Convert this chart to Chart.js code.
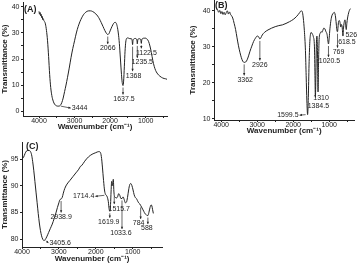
<!DOCTYPE html>
<html>
<head>
<meta charset="utf-8">
<script src="https://cdn.jsdelivr.net/npm/chart.js@4.4.1/dist/chart.umd.min.js"></script>
<style>
  body { margin: 0; background: #fff; }
  canvas { position: absolute; }
  #chartA { left: 0; top: 0; width: 180px; height: 135px; }
  #chartB { left: 180px; top: 0; width: 181px; height: 135px; }
  #chartC { left: 0; top: 135px; width: 180px; height: 137px; }
</style>
</head>
<body>
<canvas id="chartA" width="180" height="135"></canvas>
<canvas id="chartB" width="181" height="135"></canvas>
<canvas id="chartC" width="180" height="137"></canvas>
<script>
// ---- panel A ----
var aWave = [4000, 3985, 3970, 3955, 3940, 3925, 3910, 3895, 3880, 3860, 3840, 3820, 3790, 3760, 3730, 3700, 3670, 3640, 3600, 3560, 3520, 3480, 3444, 3400, 3360, 3320, 3280, 3240, 3200, 3150, 3100, 3050, 3000, 2950, 2900, 2850, 2800, 2750, 2700, 2650, 2600, 2550, 2500, 2450, 2400, 2350, 2300, 2250, 2200, 2150, 2100, 2066, 2030, 2000, 1950, 1900, 1860, 1830, 1800, 1770, 1740, 1710, 1680, 1660, 1637, 1620, 1600, 1580, 1560, 1540, 1510, 1480, 1440, 1400, 1380, 1368, 1355, 1330, 1300, 1260, 1245, 1235, 1222, 1190, 1150, 1135, 1122, 1110, 1080, 1040, 1000, 960, 920, 880, 840, 800, 760, 720, 680, 640, 600, 560, 520, 480, 440, 400];
var aTrans = [38.3, 37.2, 37.9, 36.6, 37.2, 35.9, 36.4, 35.1, 35.5, 34.6, 34.3, 33.5, 31.0, 27.0, 21.0, 14.0, 9.0, 6.0, 3.8, 2.6, 2.1, 1.9, 1.9, 2.2, 3.2, 5.0, 7.5, 10.0, 12.8, 16.5, 20.5, 24.0, 27.0, 30.0, 32.4, 34.3, 35.8, 37.0, 37.8, 38.3, 38.5, 38.5, 38.3, 37.9, 37.3, 36.5, 35.4, 34.0, 32.5, 31.0, 29.8, 29.4, 29.8, 30.8, 32.4, 33.7, 34.1, 33.8, 32.5, 30.0, 26.0, 20.0, 14.0, 11.0, 9.8, 11.5, 17.0, 23.0, 26.5, 27.8, 28.1, 28.0, 27.8, 27.8, 27.0, 25.5, 27.2, 27.7, 27.9, 27.7, 27.0, 25.8, 27.3, 27.8, 27.7, 27.2, 26.0, 27.3, 27.9, 28.0, 28.0, 27.6, 26.8, 25.0, 22.5, 19.5, 17.2, 15.6, 14.6, 13.9, 13.4, 13.0, 12.7, 12.5, 12.4, 12.2];
var aPeakText = ["3444", "2066", "1637.5", "1368", "1235.5", "1122.5"];
var aPeakWave = [3444, 2066, 1637, 1368, 1235, 1122];

// ---- panel B ----
var bWave = [4100, 4070, 4040, 4010, 3980, 3950, 3920, 3890, 3860, 3830, 3800, 3770, 3740, 3710, 3680, 3640, 3600, 3560, 3520, 3480, 3440, 3400, 3362, 3320, 3280, 3240, 3200, 3150, 3100, 3050, 3000, 2960, 2926, 2900, 2860, 2800, 2700, 2600, 2500, 2400, 2300, 2200, 2100, 2000, 1900, 1820, 1780, 1750, 1720, 1690, 1660, 1640, 1620, 1600, 1580, 1560, 1540, 1520, 1500, 1470, 1440, 1410, 1395, 1384, 1370, 1355, 1340, 1325, 1310, 1295, 1280, 1250, 1220, 1200, 1180, 1150, 1120, 1090, 1060, 1040, 1020, 1000, 980, 950, 920, 890, 860, 840, 820, 800, 785, 769, 755, 740, 720, 700, 680, 660, 640, 618, 600, 580, 560, 540, 526, 510, 490, 470, 450, 430, 410];
var bTrans = [40.3, 39.6, 40.1, 39.2, 39.8, 39.0, 39.6, 38.9, 39.5, 40.0, 39.1, 39.7, 39.0, 38.6, 38.0, 36.5, 34.8, 32.5, 30.3, 28.5, 27.0, 26.0, 25.7, 25.8, 26.4, 27.5, 28.8, 30.2, 31.5, 32.4, 33.0, 32.8, 32.2, 32.5, 33.3, 34.0, 34.7, 35.2, 35.6, 35.9, 36.1, 36.5, 37.0, 37.6, 38.5, 39.5, 40.0, 39.8, 38.0, 34.5, 29.0, 22.0, 15.0, 11.2, 16.0, 25.0, 31.0, 33.5, 34.0, 33.6, 32.8, 30.0, 22.0, 16.0, 22.0, 31.0, 33.0, 28.0, 17.5, 26.0, 32.0, 33.8, 34.2, 34.0, 34.5, 35.2, 35.0, 34.2, 33.5, 32.0, 30.8, 32.5, 35.0, 37.5, 38.8, 39.3, 39.6, 39.2, 38.0, 36.0, 34.5, 34.2, 35.5, 37.0, 37.3, 36.8, 35.5, 36.2, 35.5, 33.0, 35.5, 37.0, 37.5, 35.8, 34.8, 36.5, 38.0, 39.0, 39.8, 40.3, 40.6];
var bPeakText = ["3362", "2926", "1599.5", "1384.5", "1310", "1020.5", "769", "618.5", "526"];
var bPeakWave = [3362, 2926, 1600, 1384, 1310, 1020, 769, 618, 526];

// ---- panel C ----
var cWave = [4000, 3960, 3920, 3880, 3840, 3800, 3770, 3740, 3710, 3680, 3650, 3620, 3590, 3560, 3530, 3500, 3470, 3440, 3405, 3370, 3330, 3280, 3230, 3180, 3130, 3080, 3040, 3000, 2970, 2940, 2910, 2880, 2840, 2780, 2700, 2620, 2540, 2460, 2420, 2380, 2300, 2200, 2100, 2000, 1920, 1880, 1850, 1820, 1790, 1760, 1730, 1714, 1690, 1660, 1640, 1620, 1600, 1585, 1570, 1555, 1540, 1525, 1510, 1495, 1470, 1440, 1410, 1380, 1350, 1320, 1290, 1260, 1230, 1200, 1170, 1140, 1110, 1080, 1050, 1020, 990, 960, 930, 900, 870, 840, 810, 784, 760, 730, 700, 670, 640, 610, 588, 560, 530, 500, 480, 460, 440];
var cTrans = [95.0, 95.3, 96.0, 96.5, 96.6, 96.6, 96.4, 95.8, 94.5, 92.8, 90.8, 88.8, 86.8, 84.8, 83.0, 81.6, 80.6, 80.0, 79.7, 79.9, 80.4, 81.2, 82.0, 82.8, 83.8, 84.9, 85.9, 86.8, 87.4, 87.5, 87.8, 88.6, 89.5, 90.3, 91.0, 91.7, 92.4, 93.1, 93.6, 93.8, 94.6, 95.4, 95.9, 96.2, 96.4, 96.3, 95.5, 93.5, 91.0, 89.0, 88.3, 88.2, 87.9, 87.0, 85.7, 85.2, 86.5, 89.0, 90.8, 90.0, 90.6, 91.2, 89.0, 88.0, 87.8, 87.7, 87.9, 88.5, 88.2, 87.6, 87.6, 87.9, 87.4, 86.8, 86.9, 87.8, 89.2, 90.2, 90.4, 90.0, 89.2, 88.3, 87.8, 87.6, 87.2, 86.8, 86.6, 86.3, 86.0, 85.6, 85.2, 84.8, 84.6, 84.4, 84.4, 85.0, 85.9, 86.4, 86.2, 85.5, 84.8];
var cPeakText = ["3405.6", "2938.9", "1714.4", "1619.9", "1515.7", "1033.6", "784", "588"];
var cPeakWave = [3405, 2940, 1714, 1620, 1500, 1290, 784, 588];

var FONT = "'Liberation Sans', Arial, sans-serif";
var INK = "#222";

// where each peak label sits relative to the point on the curve
var aNoteLayout = [
    {side: "right", dx: 13, dy: 2},
    {side: "down", dx: 0, dy: 14},
    {side: "down", dx: 1, dy: 13.5},
    {side: "down", dx: 1, dy: 31},
    {side: "down", dx: 5, dy: 18.5},
    {side: "down", dx: 5, dy: 9.5}
];
var bNoteLayout = [
    {side: "down", dx: 1, dy: 17.5},
    {side: "down", dx: 0, dy: 26},
    {side: "left", dx: -9, dy: 0.5},
    {side: "down", dx: 3, dy: 8.5},
    {side: "down", dx: 3, dy: 6},
    {side: "down", dx: 1, dy: 17.5},
    {side: "down", dx: 1, dy: 20.5},
    {side: "down", dx: 4, dy: 6},
    {side: "down", dx: 5, dy: 5.5}
];
var cNoteLayout = [
    {side: "right", dx: 5.5, dy: 2.5},
    {side: "down", dx: 0, dy: 18},
    {side: "left", dx: -12, dy: 1},
    {side: "down", dx: -1, dy: 11},
    {side: "down", dx: 5, dy: 14},
    {side: "down", dx: -1, dy: 35},
    {side: "down", dx: -2, dy: 18},
    {side: "down", dx: -1, dy: 13}
];

function curveAt(xs, ys, wn) {
    for (var i = 0; i < xs.length - 1; i++) {
        if ((xs[i] - wn) * (xs[i + 1] - wn) <= 0) {
            var t = (wn - xs[i]) / (xs[i + 1] - xs[i]);
            return ys[i] + t * (ys[i + 1] - ys[i]);
        }
    }
    return ys[ys.length - 1];
}

function arrowHead(ctx, x0, y0, x1, y1) {
    var a = Math.atan2(y1 - y0, x1 - x0);
    var len = 2.6;
    ctx.beginPath();
    ctx.moveTo(x1, y1);
    ctx.lineTo(x1 - len * Math.cos(a - 0.45), y1 - len * Math.sin(a - 0.45));
    ctx.lineTo(x1 - len * Math.cos(a + 0.45), y1 - len * Math.sin(a + 0.45));
    ctx.closePath();
    ctx.fill();
}

var notesPlugin = {
    id: "peakNotes",
    afterDraw: function (chart) {
        var o = chart.options.plugins.peakNotes;
        var ctx = chart.ctx;
        var xs = chart.scales.x, ys = chart.scales.y;
        ctx.save();
        ctx.fillStyle = INK;
        ctx.strokeStyle = INK;
        ctx.lineWidth = 0.7;
        ctx.font = "7px " + FONT;
        ctx.textBaseline = "middle";
        o.waves.forEach(function (wn, i) {
            var lay = o.layout[i];
            var px = xs.getPixelForValue(wn);
            var py = ys.getPixelForValue(curveAt(o.xs, o.ys, wn));
            var lx = px + lay.dx, ly = py + lay.dy;
            if (lay.side === "down") {
                ctx.textAlign = "center";
                ctx.fillText(o.texts[i], lx, ly);
                var top = ly - 4.5;
                if (top - (py + 2) > 2) {
                    ctx.beginPath();
                    ctx.moveTo(px, py + 2);
                    ctx.lineTo(px, top);
                    ctx.stroke();
                    arrowHead(ctx, px, py + 2, px, top);
                }
            } else if (lay.side === "right") {
                ctx.textAlign = "left";
                ctx.fillText(o.texts[i], lx, ly);
                ctx.beginPath();
                ctx.moveTo(px + 2, py);
                ctx.lineTo(lx - 1, ly);
                ctx.stroke();
                arrowHead(ctx, px + 2, py, lx - 1, ly);
            } else {
                ctx.textAlign = "right";
                ctx.fillText(o.texts[i], lx, ly);
                ctx.beginPath();
                ctx.moveTo(px - 2, py);
                ctx.lineTo(lx + 1, ly);
                ctx.stroke();
                arrowHead(ctx, px - 2, py, lx + 1, ly);
            }
        });
        ctx.font = "bold 9px " + FONT;
        ctx.textAlign = "left";
        ctx.fillText(o.tag, o.tagX, o.tagY);
        ctx.restore();
    }
};

// ticks at every multiple of step inside the range, nothing else
function stepTicks(step, min, max) {
    return function (scale) {
        var t = [];
        for (var v = Math.ceil(min / step - 1e-9) * step; v <= max + 1e-9; v += step) {
            t.push({value: Math.round(v * 1000) / 1000});
        }
        scale.ticks = t;
    };
}

function drawPanel(canvasId, xs, ys, p) {
    var pts = xs.map(function (x, i) { return {x: x, y: ys[i]}; });
    new Chart(document.getElementById(canvasId), {
        type: "line",
        data: {
            datasets: [{
                data: pts,
                borderColor: INK,
                borderWidth: 1,
                pointRadius: 0,
                cubicInterpolationMode: "monotone",
                fill: false
            }]
        },
        options: {
            responsive: false,
            animation: false,
            events: [],
            layout: {padding: {top: p.top, right: p.right, left: p.left, bottom: p.bottom}},
            plugins: {
                legend: {display: false},
                tooltip: {enabled: false},
                peakNotes: {
                    xs: xs, ys: ys, waves: p.waves, texts: p.texts, layout: p.layout,
                    tag: p.tag, tagX: p.tagX, tagY: p.tagY
                }
            },
            scales: {
                x: {
                    type: "linear",
                    reverse: true,
                    min: p.xMin,
                    max: p.xMax,
                    afterBuildTicks: stepTicks(500, p.xMin, p.xMax),
                    afterFit: function (s) {
                        s.height = p.xAxisH;
                        s.paddingLeft = 0;
                        s.paddingRight = 0;
                    },
                    border: {display: true, color: INK, width: 1},
                    grid: {drawOnChartArea: false, drawTicks: true, tickLength: 2, color: INK},
                    ticks: {
                        autoSkip: false,
                        maxRotation: 0,
                        padding: 0,
                        color: INK,
                        font: {family: FONT, size: 7, lineHeight: 1},
                        callback: function (v) { return v % 1000 === 0 ? String(v) : ""; }
                    },
                    title: {
                        display: true,
                        text: "Wavenumber (cm\u207B\u00B9)",
                        color: INK,
                        padding: {top: 0, bottom: 0},
                        font: {family: FONT, size: 8, weight: "bold", lineHeight: 1}
                    }
                },
                y: {
                    min: p.yMin,
                    max: p.yMax,
                    afterBuildTicks: stepTicks(p.yStep, p.yMin, p.yMax),
                    afterFit: function (s) {
                        s.width = p.yAxisW;
                        s.paddingTop = 0;
                        s.paddingBottom = 0;
                    },
                    border: {display: true, color: INK, width: 1},
                    grid: {drawOnChartArea: false, drawTicks: true, tickLength: 2, color: INK},
                    ticks: {
                        autoSkip: false,
                        padding: 1.5,
                        color: INK,
                        font: {family: FONT, size: 7},
                        callback: function (v) { return v % p.yLabelStep === 0 ? String(v) : ""; }
                    },
                    title: {
                        display: true,
                        text: "Transmittance (%)",
                        color: INK,
                        padding: {top: 0, bottom: 0},
                        font: {family: FONT, size: 8, weight: "bold"}
                    }
                }
            }
        },
        plugins: [notesPlugin]
    });
}

drawPanel("chartA", aWave, aTrans, {
    xMin: 400, xMax: 4450, yMin: -1.9, yMax: 41.9, yStep: 5, yLabelStep: 10,
    top: 2, right: 13, left: 0, bottom: 3.8, xAxisH: 15.2, yAxisW: 23,
    waves: aPeakWave, texts: aPeakText, layout: aNoteLayout,
    tag: "(A)", tagX: 24, tagY: 10
});

drawPanel("chartB", bWave, bTrans, {
    xMin: 300, xMax: 4200, yMin: 9.72, yMax: 43, yStep: 5, yLabelStep: 10,
    top: 0, right: 6.6, left: 8, bottom: 0, xAxisH: 15, yAxisW: 26,
    waves: bPeakWave, texts: bPeakText, layout: bNoteLayout,
    tag: "(B)", tagX: 35, tagY: 6
});

drawPanel("chartC", cWave, cTrans, {
    xMin: 200, xMax: 4000, yMin: 78.5, yMax: 98.2, yStep: 5, yLabelStep: 5,
    top: 7, right: 17.8, left: 0, bottom: 9, xAxisH: 16, yAxisW: 22,
    waves: cPeakWave, texts: cPeakText, layout: cNoteLayout,
    tag: "(C)", tagX: 26, tagY: 12
});
</script>
</body>
</html>
